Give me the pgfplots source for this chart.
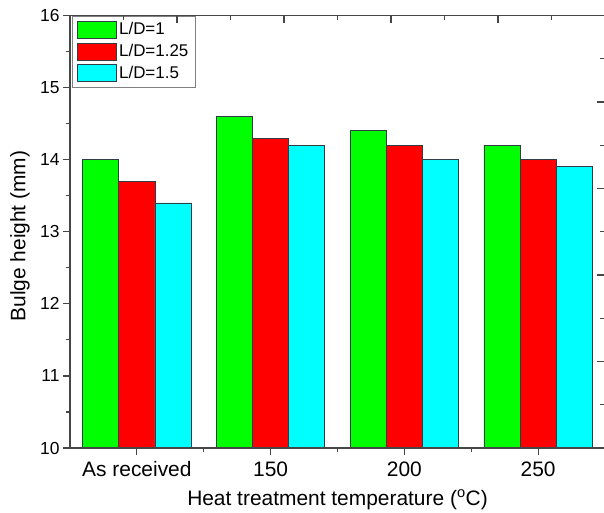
\documentclass[border=0pt]{standalone}
\usepackage{pgfplots}
\pgfplotsset{compat=1.18}
\usepackage{fontspec}
\setmainfont{Liberation Sans}
\definecolor{bgreen}{RGB}{0,255,0}
\definecolor{bred}{RGB}{255,0,0}
\definecolor{bcyan}{RGB}{0,255,255}
\definecolor{axgray}{RGB}{70,70,70}
\definecolor{edgegray}{RGB}{50,60,70}
\begin{document}
\begin{tikzpicture}
\useasboundingbox (0,0) rectangle (604bp,513bp);
\begin{axis}[
  at={(70bp,65bp)}, anchor=south west,
  scale only axis, width=535bp, height=432.5bp,
  xmin=-0.5, xmax=3.5, ymin=10, ymax=16,
  xtick={0,1,2,3}, xticklabels={As received,150,200,250},
  minor xtick={0.5,1.5,2.5},
  ytick={10,11,...,16}, minor ytick={10.5,11.5,...,15.5},
  xtick pos=left, ytick pos=left,
  tick align=outside,
  major tick length=7bp, minor tick length=4bp,
  axis line style={axgray, line width=1.2bp},
  tick style={axgray, line width=1.2bp},
  /pgf/number format/assume math mode=true,
  xticklabel style={font=\fontsize{21}{25}\selectfont, yshift=-3bp},
  yticklabel style={font=\fontsize{17.5}{20}\selectfont},
  xlabel={Heat treatment temperature (\textsuperscript{o}C)},
  ylabel={Bulge height (mm)},
  xlabel style={font=\fontsize{21}{25}\selectfont, at={(axis description cs:0.5,-0.12)}, anchor=center},
  ylabel style={font=\fontsize{21}{25}\selectfont, at={(axis description cs:-0.0935,0.49)}, anchor=center},
  ybar, bar width=0.27,
  legend style={at={(axis description cs:0.004,1)}, anchor=north west, draw=gray, fill=white,
    font=\fontsize{17}{20}\selectfont, inner sep=5bp, row sep=4bp,
    /tikz/every even column/.append style={column sep=1bp}},
  legend cell align=left,
  legend image code/.code={\draw[#1] (0bp,-8.5bp) rectangle (39bp,8.5bp);},
]
\addplot[fill=bgreen, draw=edgegray, line width=0.8bp, bar shift=-0.27] coordinates {(0,14.0) (1,14.6) (2,14.4) (3,14.2)};
\addplot[fill=bred, draw=edgegray, line width=0.8bp, bar shift=0] coordinates {(0,13.7) (1,14.3) (2,14.2) (3,14.0)};
\addplot[fill=bcyan, draw=edgegray, line width=0.8bp, bar shift=0.27] coordinates {(0,13.4) (1,14.2) (2,14.0) (3,13.9)};
\legend{L/D=1\hspace{10bp}, L/D=1.25\hspace{10bp}, L/D=1.5\hspace{10bp}}
\end{axis}
\begin{axis}[
  at={(70bp,65bp)}, anchor=south west,
  scale only axis, width=535bp, height=432.5bp,
  xmin=0, xmax=5, ymin=0, ymax=5,
  xtick={0,1,...,5}, ytick={0,1,...,5},
  minor x tick num=1, minor y tick num=1,
  xtick pos=right, ytick pos=right,
  tick align=inside,
  xticklabels={}, yticklabels={},
  major tick length=8bp, minor tick length=5bp,
  axis line style={axgray, line width=1.2bp},
  tick style={axgray, line width=1.2bp},
]
\end{axis}
\end{tikzpicture}
\end{document}
